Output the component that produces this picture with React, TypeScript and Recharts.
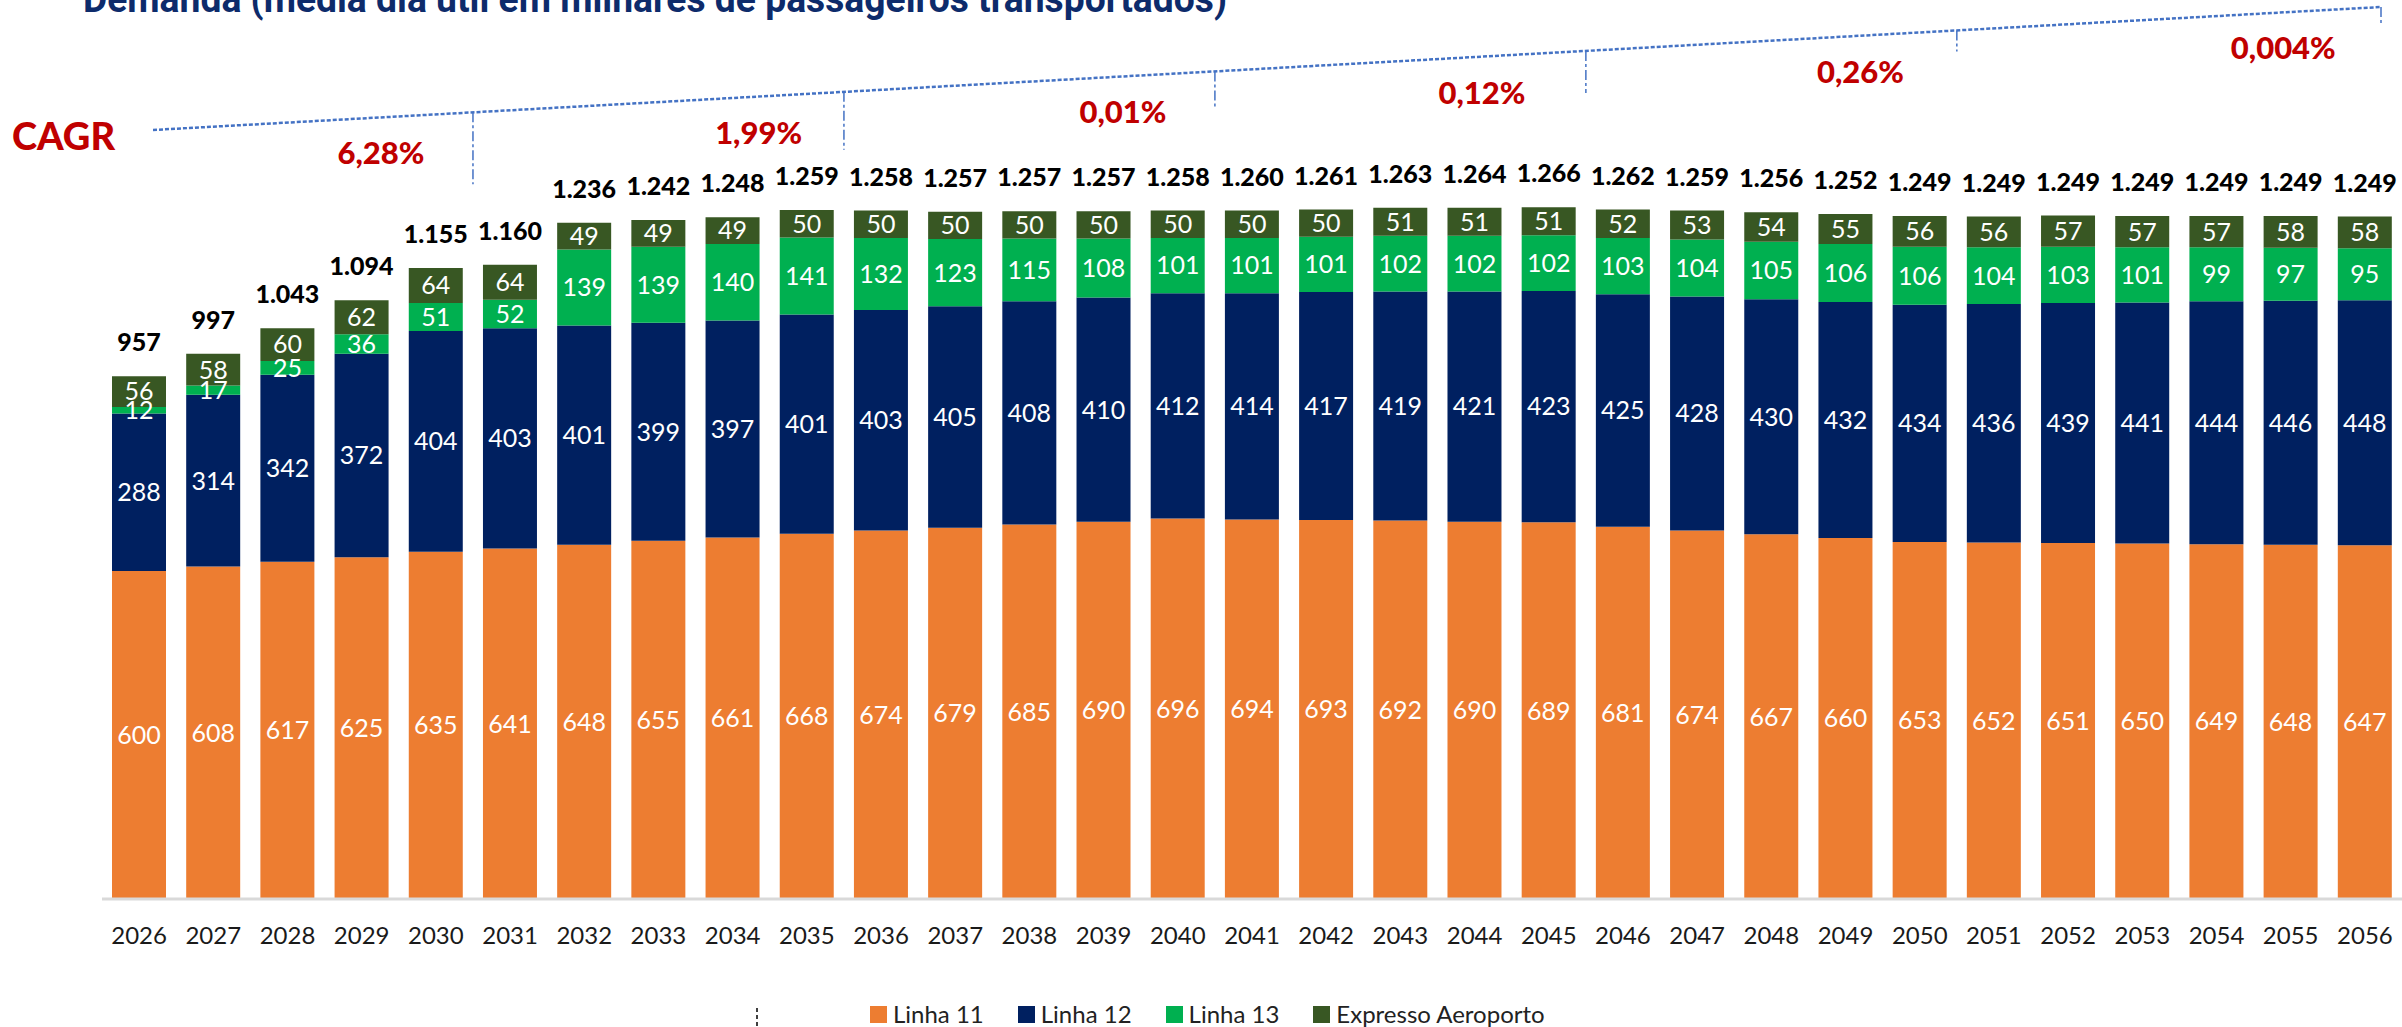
import { BarChart, Bar, XAxis, YAxis, LabelList, Legend } from 'recharts';

const years = [
  '2026', '2027', '2028', '2029', '2030', '2031', '2032', '2033', '2034', '2035', '2036',
  '2037', '2038', '2039', '2040', '2041', '2042', '2043', '2044', '2045', '2046', '2047',
  '2048', '2049', '2050', '2051', '2052', '2053', '2054', '2055', '2056',
];
const linha11 = [
  600, 608, 617, 625, 635, 641, 648, 655, 661, 668, 674, 679, 685, 690, 696, 694, 693, 692,
  690, 689, 681, 674, 667, 660, 653, 652, 651, 650, 649, 648, 647,
];
const linha12 = [
  288, 314, 342, 372, 404, 403, 401, 399, 397, 401, 403, 405, 408, 410, 412, 414, 417, 419,
  421, 423, 425, 428, 430, 432, 434, 436, 439, 441, 444, 446, 448,
];
const linha13 = [
  12, 17, 25, 36, 51, 52, 139, 139, 140, 141, 132, 123, 115, 108, 101, 101, 101, 102, 102,
  102, 103, 104, 105, 106, 106, 104, 103, 101, 99, 97, 95,
];
const expresso = [
  56, 58, 60, 62, 64, 64, 49, 49, 49, 50, 50, 50, 50, 50, 50, 50, 50, 51, 51, 51, 52, 53, 54,
  55, 56, 56, 57, 57, 57, 58, 58,
];
const totalLabels = [
  '957', '997', '1.043', '1.094', '1.155', '1.160', '1.236', '1.242', '1.248', '1.259',
  '1.258', '1.257', '1.257', '1.257', '1.258', '1.260', '1.261', '1.263', '1.264', '1.266',
  '1.262', '1.259', '1.256', '1.252', '1.249', '1.249', '1.249', '1.249', '1.249', '1.249',
  '1.249',
];
const cagrLabels = ['6,28%', '1,99%', '0,01%', '0,12%', '0,26%', '0,004%'];
const seriesNames = ['Linha 11', 'Linha 12', 'Linha 13', 'Expresso Aeroporto'];

const data = years.map((year, i) => ({
  year,
  linha11: linha11[i],
  linha12: linha12[i],
  linha13: linha13[i],
  expresso: expresso[i],
  total: totalLabels[i],
}));

const W = 2402;
const H = 1027;
const PLOT_LEFT = 102;
const BAND = (W - PLOT_LEFT) / years.length;

const ORANGE = '#ED7D31';
const NAVY = '#002060';
const GREEN = '#00B050';
const DARK_GREEN = '#385723';
const RED = '#C00000';
const FONT = 'Lato, sans-serif';

// CAGR annotation (dashed trend line over 5-year periods)
const lineStart = { x: 153, y: 130 };
const lineEnd = { x: 2381, y: 7 };
const lineY = (x: number) =>
  lineStart.y + ((lineEnd.y - lineStart.y) * (x - lineStart.x)) / (lineEnd.x - lineStart.x);
const tickDrops = [72, 58, 38, 42, 21, 18];
const labelBands = [3.76, 8.85, 13.76, 18.6, 23.7, 29.4];

const Annotations = () => {
  const ticks = tickDrops.map((drop, k) => {
    const x = k < 5 ? PLOT_LEFT + BAND * 5 * (k + 1) : lineEnd.x;
    const y = lineY(x);
    return <line key={k} x1={x} y1={y} x2={x} y2={y + drop} stroke="#4472C4" strokeWidth={1.5} strokeDasharray="10 3 3 3" />;
  });
  return (
    <svg width={W} height={H} style={{ position: 'absolute', left: 0, top: 0, pointerEvents: 'none' }}>
      <text x={83} y={12} fontSize={38} fontWeight={700} fill="#0d2b6b" fontFamily="Roboto, sans-serif" textLength={1144} lengthAdjust="spacingAndGlyphs">
        Demanda (média dia útil em milhares de passageiros transportados)
      </text>
      <text x={12} y={135} fontSize={38} fontWeight={900} fill={RED} fontFamily={FONT} dominantBaseline="central">
        CAGR
      </text>
      <line x1={lineStart.x} y1={lineStart.y} x2={lineEnd.x} y2={lineEnd.y} stroke="#4472C4" strokeWidth={2.5} strokeDasharray="4 2" />
      {ticks}
      {cagrLabels.map((label, k) => {
        const x = PLOT_LEFT + BAND * labelBands[k];
        return (
          <text key={label} x={x} y={lineY(x) + 35} textAnchor="middle" dominantBaseline="central" fontSize={31} fontWeight={900} fill={RED} fontFamily={FONT}>
            {label}
          </text>
        );
      })}
      <line x1={757} y1={1008} x2={757} y2={1027} stroke="#000" strokeWidth={1.5} strokeDasharray="4 3" />
    </svg>
  );
};

const renderLegend = (props: any) => {
  const items = [...(props.payload || [])].sort(
    (a: any, b: any) => seriesNames.indexOf(a.value) - seriesNames.indexOf(b.value),
  );
  return (
    <div style={{ display: 'flex', alignItems: 'center', fontFamily: FONT, fontSize: 24, color: '#222', lineHeight: '24px', whiteSpace: 'nowrap' }}>
      {items.map((entry: any, i: number) => (
        <div key={entry.value} style={{ display: 'flex', alignItems: 'center', marginLeft: i === 0 ? 0 : 34 }}>
          <span style={{ display: 'inline-block', width: 17, height: 17, background: entry.color, marginRight: 6 }} />
          <span>{entry.value}</span>
        </div>
      ))}
    </div>
  );
};

const segLabel = { fill: '#fff', fontSize: 25, fontFamily: FONT };

const App = () => {
  return (
    <div style={{ position: 'absolute', left: 0, top: 0, width: W, height: H, background: '#fff' }}>
      <BarChart width={W} height={H} data={data} margin={{ top: 133.5, right: 0, left: PLOT_LEFT, bottom: 88 }} barSize={54}>
        <XAxis
          dataKey="year"
          height={40}
          interval={0}
          tickLine={false}
          tickSize={0}
          tickMargin={28}
          axisLine={{ stroke: '#d9d9d9', strokeWidth: 3 }}
          tick={{ fill: '#1a1a1a', fontSize: 24, fontFamily: FONT }}
        />
        <YAxis hide domain={[0, 1400]} />
        <Legend
          layout="horizontal"
          verticalAlign="middle"
          align="center"
          wrapperStyle={{ left: 870, top: 1002, width: 'auto' }}
          content={renderLegend}
        />
        <Bar dataKey="linha11" name={seriesNames[0]} stackId="a" fill={ORANGE} isAnimationActive={false}>
          <LabelList dataKey="linha11" position="center" {...segLabel} />
        </Bar>
        <Bar dataKey="linha12" name={seriesNames[1]} stackId="a" fill={NAVY} isAnimationActive={false}>
          <LabelList dataKey="linha12" position="center" {...segLabel} />
        </Bar>
        <Bar dataKey="linha13" name={seriesNames[2]} stackId="a" fill={GREEN} isAnimationActive={false}>
          <LabelList dataKey="linha13" position="center" {...segLabel} />
        </Bar>
        <Bar dataKey="expresso" name={seriesNames[3]} stackId="a" fill={DARK_GREEN} isAnimationActive={false}>
          <LabelList dataKey="expresso" position="center" {...segLabel} />
          <LabelList dataKey="total" position="top" offset={25} fill="#000" fontSize={25} fontWeight={900} fontFamily={FONT} />
        </Bar>
      </BarChart>
      <Annotations />
    </div>
  );
};

export default App;
